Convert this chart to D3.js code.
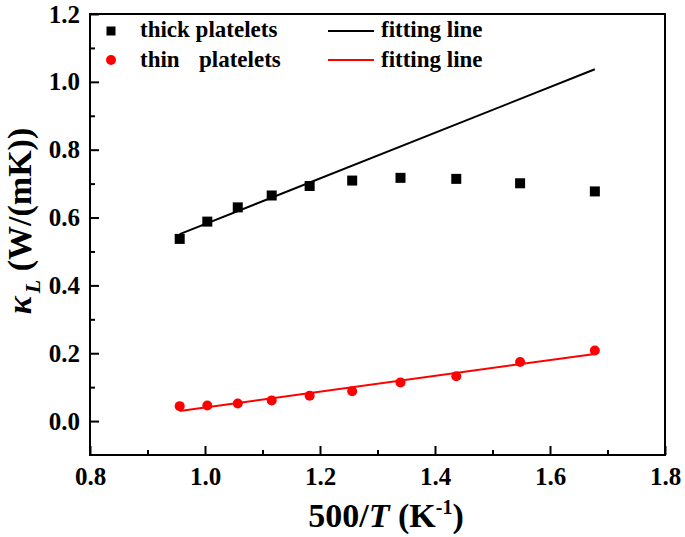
<!DOCTYPE html>
<html>
<head>
<meta charset="utf-8">
<script src="https://cdn.jsdelivr.net/npm/d3@7"></script>
<style>
  html, body { margin: 0; padding: 0; background: #fff; }
  svg { display: block; }
</style>
</head>
<body>
<svg id="chart" width="685" height="537"></svg>
<script>
// ---- data ----
const xValues = [0.956, 1.004, 1.057, 1.116, 1.182, 1.256, 1.340, 1.437, 1.548, 1.678];
const thickValues = [0.537, 0.588, 0.630, 0.665, 0.693, 0.709, 0.717, 0.714, 0.701, 0.677];
const thinValues = [0.044, 0.046, 0.052, 0.061, 0.075, 0.088, 0.114, 0.132, 0.174, 0.208];
const fitX = [0.956, 1.678];
const thickFit = [0.551, 1.037];
const thinFit = [0.030, 0.198];
const xMajorTicks = [0.8, 1.0, 1.2, 1.4, 1.6, 1.8];
const xMinorTicks = [0.9, 1.1, 1.3, 1.5, 1.7];
const yMajorTicks = [0.0, 0.2, 0.4, 0.6, 0.8, 1.0, 1.2];
const yMinorTicks = [0.1, 0.3, 0.5, 0.7, 0.9, 1.1];
const legendLabels = ["thick platelets", "thin", "platelets", "fitting line"];

// ---- layout ----
const FONT = "'Liberation Serif', 'Times New Roman', serif";
const W = 685, H = 537;
const m = { left: 90, right: 20, top: 14, bottom: 82 };
const svg = d3.select("#chart")
  .style("font-family", FONT).style("font-weight", "bold");
const x = d3.scaleLinear().domain([0.8, 1.8]).range([m.left, W - m.right]);
const y = d3.scaleLinear().domain([-0.1, 1.2]).range([H - m.bottom, m.top]);
const fmt = d3.format(".1f");

function styleAxis(g) {
  g.attr("font-family", null).attr("font-size", null);
  g.select(".domain").remove();
  g.selectAll("line").attr("stroke", "#000").attr("stroke-width", 2);
  g.selectAll("text").attr("fill", "#000")
    .style("font-family", FONT).style("font-weight", "bold").style("font-size", "25px");
}

// axes (inward ticks)
svg.append("g").attr("transform", `translate(0,${H - m.bottom})`)
  .call(d3.axisBottom(x).tickValues(xMajorTicks).tickFormat(fmt).tickSizeInner(-9).tickSizeOuter(0).tickPadding(12))
  .call(styleAxis);
svg.append("g").attr("transform", `translate(0,${H - m.bottom})`)
  .call(d3.axisBottom(x).tickValues(xMinorTicks).tickFormat("").tickSizeInner(-5).tickSizeOuter(0))
  .call(styleAxis);
svg.append("g").attr("transform", `translate(${m.left},0)`)
  .call(d3.axisLeft(y).tickValues(yMajorTicks).tickFormat(fmt).tickSizeInner(-9).tickSizeOuter(0).tickPadding(10))
  .call(styleAxis);
svg.append("g").attr("transform", `translate(${m.left},0)`)
  .call(d3.axisLeft(y).tickValues(yMinorTicks).tickFormat("").tickSizeInner(-5).tickSizeOuter(0))
  .call(styleAxis);

// frame
svg.append("rect")
  .attr("x", x(0.8)).attr("y", y(1.2))
  .attr("width", x(1.8) - x(0.8)).attr("height", y(-0.1) - y(1.2))
  .attr("fill", "none").attr("stroke", "#000").attr("stroke-width", 2);

// fitting lines
const line = d3.line().x(d => x(d[0])).y(d => y(d[1]));
svg.append("path").datum(d3.zip(fitX, thickFit)).attr("d", line)
  .attr("fill", "none").attr("stroke", "#000").attr("stroke-width", 2);
svg.append("path").datum(d3.zip(fitX, thinFit)).attr("d", line)
  .attr("fill", "none").attr("stroke", "#ff0000").attr("stroke-width", 2);

// points
const sq = 10;
svg.append("g").selectAll("rect").data(d3.zip(xValues, thickValues)).join("rect")
  .attr("x", d => x(d[0]) - sq / 2).attr("y", d => y(d[1]) - sq / 2)
  .attr("width", sq).attr("height", sq).attr("fill", "#000");
svg.append("g").selectAll("circle").data(d3.zip(xValues, thinValues)).join("circle")
  .attr("cx", d => x(d[0])).attr("cy", d => y(d[1])).attr("r", 5)
  .attr("fill", "#ff0000");

// legend
const lg = svg.append("g").style("font-size", "23px");
lg.append("rect").attr("x", 111 - 4.5).attr("y", 31 - 4.5).attr("width", 9).attr("height", 9).attr("fill", "#000");
lg.append("circle").attr("cx", 111).attr("cy", 60).attr("r", 5).attr("fill", "#ff0000");
lg.append("text").attr("x", 140).attr("y", 37).text(legendLabels[0]);
const t2 = lg.append("text").attr("y", 67);
t2.append("tspan").attr("x", 140).text(legendLabels[1]);
t2.append("tspan").attr("x", 199).text(legendLabels[2]);
lg.append("line").attr("x1", 328).attr("x2", 374).attr("y1", 31).attr("y2", 31).attr("stroke", "#000").attr("stroke-width", 2);
lg.append("line").attr("x1", 328).attr("x2", 374).attr("y1", 60).attr("y2", 60).attr("stroke", "#ff0000").attr("stroke-width", 2);
lg.append("text").attr("x", 381).attr("y", 37).text(legendLabels[3]);
lg.append("text").attr("x", 381).attr("y", 67).text(legendLabels[3]);

// x title
const xt = svg.append("text").attr("x", 386).attr("y", 527).attr("text-anchor", "middle").style("font-size", "34px");
xt.append("tspan").text("500/");
xt.append("tspan").style("font-style", "italic").text("T");
xt.append("tspan").text(" (K");
xt.append("tspan").style("font-size", "20px").attr("dy", -13).text("-1");
xt.append("tspan").attr("dy", 13).text(")");

// y title
const yt = svg.append("text").attr("transform", "translate(31,221) rotate(-90)")
  .attr("text-anchor", "middle").style("font-size", "34px");
yt.append("tspan").style("font-style", "italic").text("κ");
yt.append("tspan").style("font-style", "italic").style("font-size", "22px").attr("dy", 9).attr("dx", 3).text("L");
yt.append("tspan").attr("dy", -9).text(" (W/(mK))");
</script>
</body>
</html>
